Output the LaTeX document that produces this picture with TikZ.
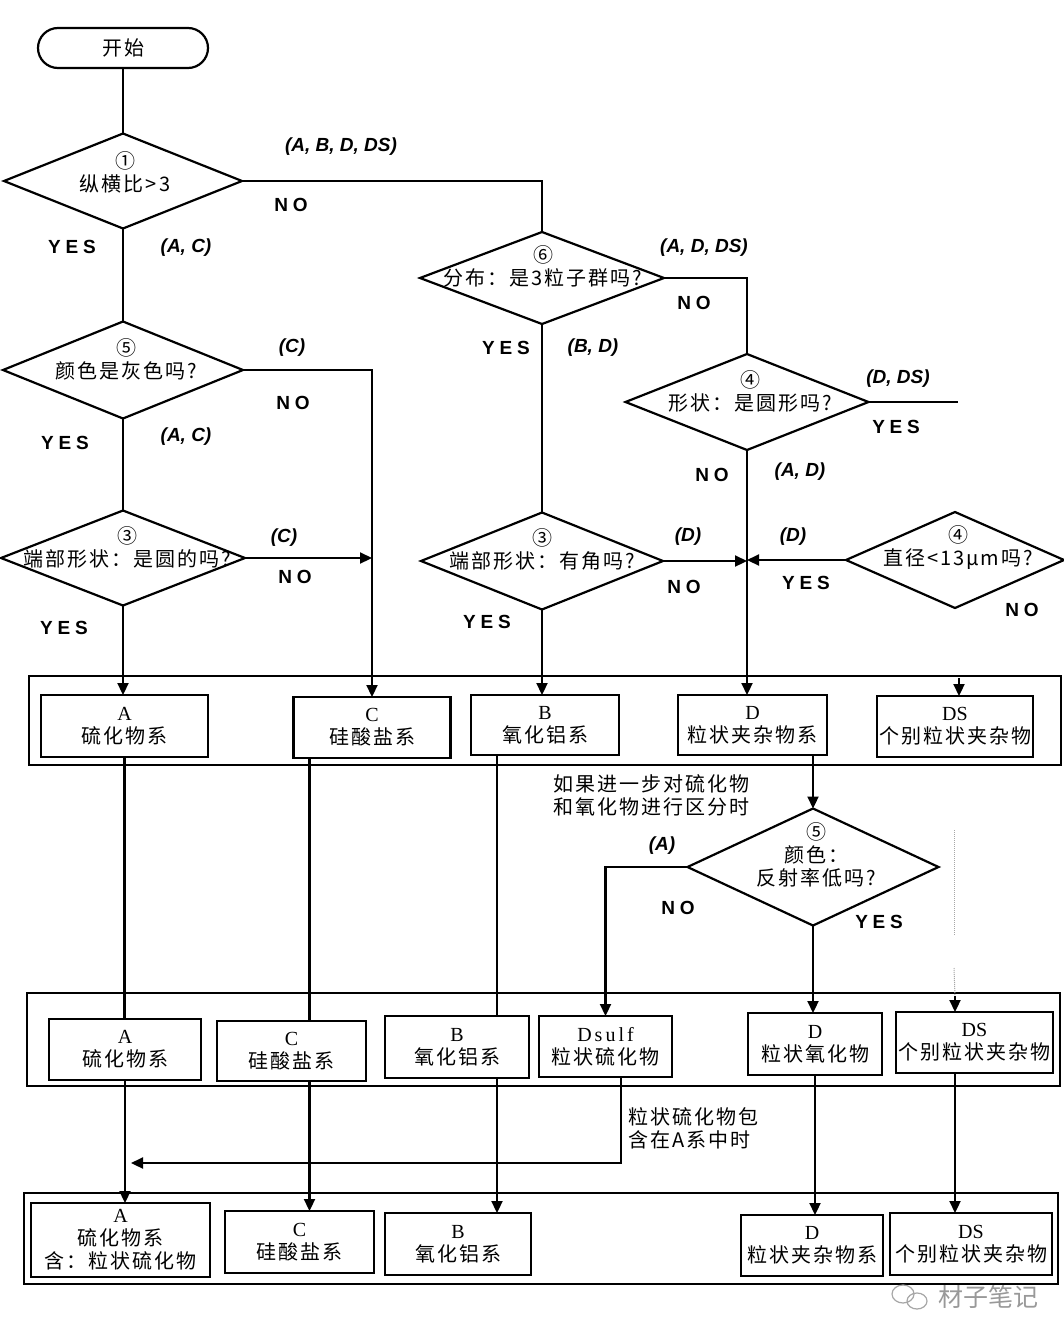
\documentclass[tikz,border=0pt]{standalone}
\usepackage{fontspec}
\setmainfont{Liberation Serif}
\newfontfamily\cjk{Noto Sans CJK SC}[LetterSpace=10]
\newfontfamily\cjkwm{Noto Sans CJK SC}
\newfontfamily\ynfont{Liberation Sans}[LetterSpace=25]
\newfontfamily\labfont{Liberation Sans}
\usetikzlibrary{shapes.geometric,arrows.meta}
\begin{document}
\begin{tikzpicture}[x=1pt,y=-1pt,
  ln/.style={line width=2.2pt},
  arr/.style={ln,-{Triangle[length=12pt,width=11pt]}},
  dia/.style={diamond,draw,line width=2.2pt,inner sep=0pt,outer sep=0pt},
  bx/.style={draw,line width=2.2pt,inner sep=0pt,outer sep=0pt,align=center,font=\fontsize{20}{23}\selectfont},
  frm/.style={draw,line width=2pt,inner sep=0pt,outer sep=0pt},
  dtxt/.style={align=center,inner sep=0pt,font=\cjk\fontsize{20}{23}\selectfont},
  ntxt/.style={align=left,inner sep=0pt,anchor=west,font=\cjk\fontsize{20}{23}\selectfont},
  yn/.style={font=\ynfont\bfseries\fontsize{19}{22}\selectfont,inner sep=0pt},
  lab/.style={font=\labfont\bfseries\itshape\fontsize{19}{22}\selectfont,inner sep=0pt},
]
\fill[white] (0,0) rectangle (1064,1344);
\useasboundingbox (0,0) rectangle (1064,1344);

% ---------- start and diamonds ----------
\node[draw,line width=2.2pt,rounded corners=20pt,minimum width=170pt,minimum height=40pt,inner sep=0pt,outer sep=0pt,font=\cjk\fontsize{20}{23}\selectfont] (start) at (123,48) {开始};

\node[dia,minimum width=238pt,minimum height=95pt] (d1) at (123,181) {};
\node[dtxt] (t1) at (125,172) {①\\纵横比>3};

\node[dia,minimum width=240pt,minimum height=97pt] (d5) at (123,370) {};
\node[dtxt] (t5) at (126,359) {⑤\\颜色是灰色吗?};

\node[dia,minimum width=244pt,minimum height=95pt] (d3) at (123,558) {};
\node[dtxt] (t3) at (127,547) {③\\端部形状：是圆的吗?};

\node[dia,minimum width=244pt,minimum height=92pt] (d6) at (542,278) {};
\node[dtxt] (t6) at (543,266) {⑥\\分布：是3粒子群吗?};

\node[dia,minimum width=243pt,minimum height=96pt] (d4) at (747,402) {};
\node[dtxt] (t4) at (750,391) {④\\形状：是圆形吗?};

\node[dia,minimum width=242pt,minimum height=97pt] (d3b) at (542,561) {};
\node[dtxt] (t3b) at (542,549) {③\\端部形状：有角吗?};

\node[dia,minimum width=218pt,minimum height=96pt] (d4b) at (955,560) {};
\node[dtxt] (t4b) at (958,548) {④\\直径<13μm吗?};

\node[dia,minimum width=251pt,minimum height=117pt] (d5b) at (813,867) {};
\node[dtxt] (t5b) at (816,855) {⑤\\颜色：\\反射率低吗?};

% ---------- frames ----------
\node[frm,minimum width=1032pt,minimum height=89pt] (F1) at (545,720.5) {};
\node[frm,minimum width=1033pt,minimum height=93pt] (F2) at (543.5,1039.5) {};
\node[frm,minimum width=1034pt,minimum height=91pt] (F3) at (541,1238.5) {};

% ---------- row 1 ----------
\node[bx,minimum width=167pt,minimum height=62pt] (A1) at (124.5,726) {A\\{\cjk 硫化物系}};
\node[bx,minimum width=157pt,minimum height=61pt] (C1) at (372,727.5) {C\\{\cjk 硅酸盐系}};
\node[bx,minimum width=148pt,minimum height=60pt] (B1) at (545,725) {B\\{\cjk 氧化铝系}};
\node[bx,minimum width=149pt,minimum height=60pt] (D1) at (752.5,725) {D\\{\cjk 粒状夹杂物系}};
\node[bx,minimum width=156pt,minimum height=61pt] (DS1) at (955,726.5) {DS\\{\cjk 个别粒状夹杂物}};

% ---------- row 2 ----------
\node[bx,minimum width=152pt,minimum height=61pt] (A2) at (125,1049.5) {A\\{\cjk 硫化物系}};
\node[bx,minimum width=149pt,minimum height=60pt] (C2) at (291.5,1051) {C\\{\cjk 硅酸盐系}};
\node[bx,minimum width=144pt,minimum height=62pt] (B2) at (457,1047) {B\\{\cjk 氧化铝系}};
\node[bx,minimum width=133pt,minimum height=61pt] (Dsulf) at (605.5,1046.5) {{\addfontfeatures{LetterSpace=15}Dsulf}\\{\cjk 粒状硫化物}};
\node[bx,minimum width=134pt,minimum height=62pt] (D2) at (815,1044) {D\\{\cjk 粒状氧化物}};
\node[bx,minimum width=157pt,minimum height=61pt] (DS2) at (974.5,1042.5) {DS\\{\cjk 个别粒状夹杂物}};

% ---------- row 3 ----------
\node[bx,minimum width=179pt,minimum height=74pt] (A3) at (120.5,1240) {A\\{\cjk 硫化物系}\\{\cjk 含：粒状硫化物}};
\node[bx,minimum width=149pt,minimum height=62pt] (C3) at (299.5,1242) {C\\{\cjk 硅酸盐系}};
\node[bx,minimum width=146pt,minimum height=62pt] (B3) at (458,1244) {B\\{\cjk 氧化铝系}};
\node[bx,minimum width=142pt,minimum height=61pt] (D3) at (812,1245.5) {D\\{\cjk 粒状夹杂物系}};
\node[bx,minimum width=162pt,minimum height=62pt] (DS3) at (971,1244) {DS\\{\cjk 个别粒状夹杂物}};

% ---------- helper coordinates ----------
\coordinate (d4end) at (958,402);
\coordinate (dsin) at (959,678);
\coordinate (cx) at ([xshift=16pt]C1.south west);
\coordinate (bxx) at ([xshift=26pt]B1.south west);
\coordinate (dx) at ([xshift=-14pt]D1.south east);
\coordinate (ds2in) at (955,996);
\coordinate (sx) at ([xshift=15.5pt]Dsulf.south);
\coordinate (ajoin) at (131,1163);

% ---------- connectors ----------
\draw[ln] (start.south) -- (d1.north);
\draw[ln] (d1.south) -- (d5.north);
\draw[ln] (d5.south) -- (d3.north);
\draw[arr] (d3.south) -- (d3.south |- A1.north);
\draw[ln] (d1.east) -| (d6.north);
\draw[arr] (d5.east) -| (C1.north);
\draw[arr] (d3.east) -- (d3.east -| C1.north);
\draw[ln] (d6.south) -- (d3b.north);
\draw[arr] (d3b.south) -- (d3b.south |- B1.north);
\draw[ln] (d6.east) -| (d4.north);
\draw[ln] (d4.east) -- (d4end);
\draw[arr] (d4.south) -- (d4.south |- D1.north);
\draw[arr] (d3b.east) -- (d3b.east -| d4.south);
\draw[arr] (d4b.west) -- (d4b.west -| d4.south);
\draw[arr] (dsin) -- (dsin |- DS1.north);

\draw[ln] (A1.south) -- (A1.south |- A2.north);
\draw[ln] (cx) -- (cx |- C2.north);
\draw[ln] (bxx) -- (bxx |- B2.north);
\draw[arr] (dx) -- (d5b.north);
\draw[arr] (d5b.west) -| (Dsulf.north);
\draw[arr] (d5b.south) -- (d5b.south |- D2.north);
\draw[densely dotted,black!35,line width=1pt] (954,830) -- (954,935);
\draw[densely dotted,black!35,line width=1pt] (954,968) -- (ds2in);
\draw[arr] (ds2in) -- (ds2in |- DS2.north);

\draw[arr] (A2.south) -- (A2.south |- A3.north);
\draw[arr] (cx |- C2.south) -- (cx |- C3.north);
\draw[arr] (bxx |- B2.south) -- (bxx |- B3.north);
\draw[arr] (D2.south) -- (D2.south |- D3.north);
\draw[arr] (ds2in |- DS2.south) -- (ds2in |- DS3.north);
\draw[arr] (sx) |- (ajoin);

% ---------- labels ----------
\node[lab] (l1) at (341,147) {(A, B, D, DS)};
\node[yn] (l2) at (291,205) {NO};
\node[yn] (l3) at (72,247) {YES};
\node[lab] (l4) at (186,248) {(A, C)};
\node[lab] (l5) at (292,348) {(C)};
\node[yn] (l6) at (293,403) {NO};
\node[yn] (l7) at (65,443) {YES};
\node[lab] (l8) at (186,437) {(A, C)};
\node[lab] (l9) at (284,538) {(C)};
\node[yn] (l10) at (295,577) {NO};
\node[yn] (l11) at (64,628) {YES};
\node[lab] (l12) at (704,248) {(A, D, DS)};
\node[yn] (l13) at (694,303) {NO};
\node[yn] (l14) at (506,348) {YES};
\node[lab] (l15) at (593,348) {(B, D)};
\node[lab] (l16) at (898,379) {(D, DS)};
\node[yn] (l17) at (896,427) {YES};
\node[yn] (l18) at (712,475) {NO};
\node[lab] (l19) at (800,472) {(A, D)};
\node[lab] (l20) at (688,537) {(D)};
\node[lab] (l21) at (793,537) {(D)};
\node[yn] (l22) at (684,587) {NO};
\node[yn] (l23) at (806,583) {YES};
\node[yn] (l24) at (1022,610) {NO};
\node[yn] (l25) at (487,622) {YES};
\node[ntxt] (n1) at (553,795) {如果进一步对硫化物\\和氧化物进行区分时};
\node[lab] (l26) at (662,846) {(A)};
\node[yn] (l27) at (678,908) {NO};
\node[yn] (l28) at (879,922) {YES};
\node[ntxt] (n2) at (628,1128) {粒状硫化物包\\含在A系中时};

% ---------- watermark ----------
\draw[black!35,line width=1.2pt] (903,1294) ellipse (11pt and 9pt);
\draw[black!35,line width=1.2pt] (917,1301) ellipse (10pt and 8pt);
\node[font=\cjkwm\fontsize{25}{25}\selectfont,text=black!40,inner sep=0pt] (wm) at (988,1297) {材子笔记};
\end{tikzpicture}
\end{document}
